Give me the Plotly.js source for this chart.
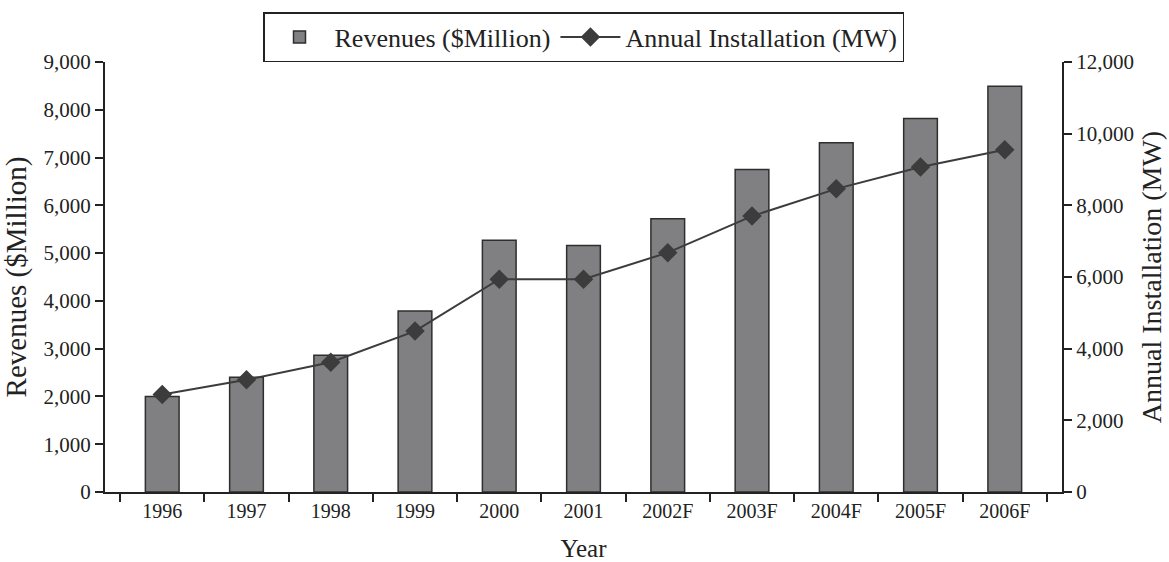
<!DOCTYPE html>
<html>
<head>
<meta charset="utf-8">
<script src="https://cdn.plot.ly/plotly-3.0.1.min.js"></script>
<style>html,body{margin:0;padding:0;background:#fff;}#chart{width:1169px;height:562px;}</style>
</head>
<body>
<div id="chart"></div>
<script>
const years = ["1996","1997","1998","1999","2000","2001","2002F","2003F","2004F","2005F","2006F"];
const revenues = [2000, 2400, 2860, 3790, 5270, 5160, 5720, 6750, 7310, 7820, 8490];
const installation = [2720, 3130, 3620, 4490, 5940, 5940, 6680, 7700, 8460, 9070, 9550];
const leftTicks = [0,1000,2000,3000,4000,5000,6000,7000,8000,9000];
const rightTicks = [0,2000,4000,6000,8000,10000,12000];

const FONT = "Liberation Serif";
const fmt = v => v.toLocaleString("en-US");

const traces = [
  {
    type: "bar", x: years, y: revenues, name: "Revenues ($Million)",
    marker: {color: "#808083", line: {color: "#2e2e2e", width: 1.5}},
    yaxis: "y"
  },
  {
    type: "scatter", mode: "lines+markers", x: years, y: installation,
    name: "Annual Installation (MW)", yaxis: "y2",
    line: {color: "#3c3c3c", width: 2},
    marker: {symbol: "diamond", size: 15, color: "#3c3c3c"}
  }
];

const layout = {
  width: 1169, height: 562,
  margin: {l: 105, r: 107, t: 55, b: 70},
  paper_bgcolor: "#fff", plot_bgcolor: "#fff",
  font: {family: FONT, size: 20, color: "#222"},
  bargap: 0.6,
  showlegend: true,
  legend: {
    orientation: "h", x: 0.5, xanchor: "center", xref: "paper",
    y: 1.0, yanchor: "bottom",
    bordercolor: "#222", borderwidth: 1.5,
    font: {family: FONT, size: 26, color: "#222"},
    itemwidth: 60, traceorder: "normal"
  },
  xaxis: {
    type: "category", tickson: "boundaries",
    showline: true, linecolor: "#222", linewidth: 2,
    ticks: "outside", ticklen: 8, tickwidth: 2, tickcolor: "#222",
    showgrid: false, zeroline: false,
    tickfont: {family: FONT, size: 20, color: "#222"},
    title: {text: "Year", font: {family: FONT, size: 25, color: "#222"}, standoff: 20}
  },
  yaxis: {
    range: [0, 9000], tickvals: leftTicks, ticktext: leftTicks.map(fmt),
    showline: true, linecolor: "#222", linewidth: 2,
    ticks: "outside", ticklen: 8, tickwidth: 2, tickcolor: "#222",
    showgrid: false, zeroline: false,
    tickfont: {family: FONT, size: 21, color: "#222"},
    title: {text: "Revenues ($Million)", font: {family: FONT, size: 29, color: "#222"}, standoff: 8}
  },
  yaxis2: {
    range: [0, 12000], tickvals: rightTicks, ticktext: rightTicks.map(fmt),
    overlaying: "y", side: "right",
    showline: true, linecolor: "#222", linewidth: 2,
    ticks: "outside", ticklen: 8, tickwidth: 2, tickcolor: "#222",
    showgrid: false, zeroline: false,
    tickfont: {family: FONT, size: 21, color: "#222"},
    title: {text: "Annual Installation (MW)", font: {family: FONT, size: 28, color: "#222"}, standoff: 8}
  }
};

Plotly.newPlot("chart", traces, layout, {displayModeBar: false, staticPlot: true});
</script>
</body>
</html>
